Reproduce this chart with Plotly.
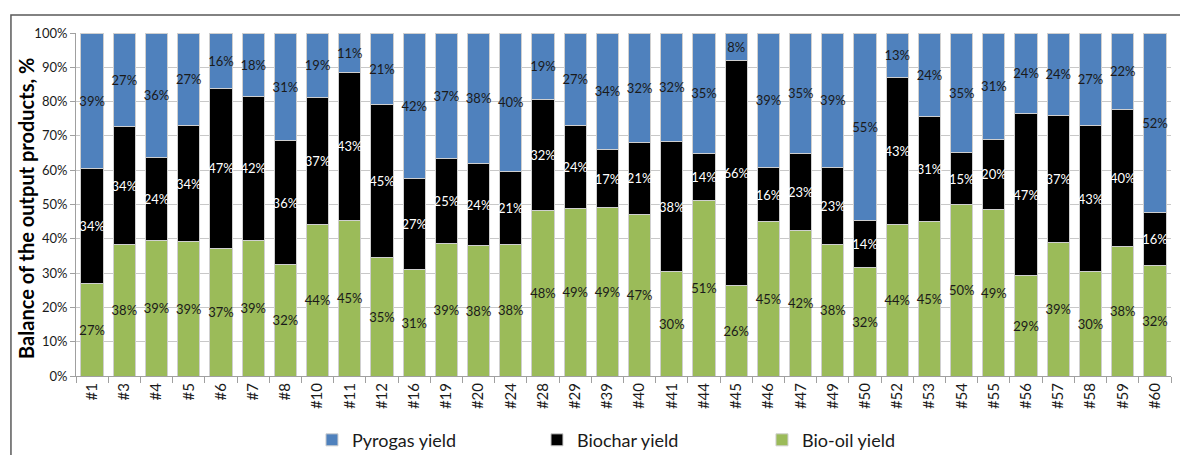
import plotly.graph_objects as go

samples = ["#1", "#3", "#4", "#5", "#6", "#7", "#8", "#10", "#11", "#12", "#16", "#19",
           "#20", "#24", "#28", "#29", "#39", "#40", "#41", "#44", "#45", "#46", "#47",
           "#49", "#50", "#52", "#53", "#54", "#55", "#56", "#57", "#58", "#59", "#60"]

bio_oil = [27.0, 38.3, 39.4, 39.1, 37.1, 39.4, 32.4, 44.1, 45.3, 34.6, 31.1, 38.7,
           38.0, 38.4, 48.2, 48.9, 49.2, 47.2, 30.4, 51.3, 26.3, 45.0, 42.3,
           38.2, 31.6, 44.3, 45.0, 49.9, 48.6, 29.2, 38.9, 30.4, 37.9, 32.2]
biochar = [33.6, 34.4, 24.2, 34.0, 46.8, 42.2, 36.3, 37.1, 43.3, 44.6, 26.6, 24.7,
           24.0, 21.3, 32.4, 24.2, 16.7, 20.9, 37.9, 13.6, 65.6, 15.8, 22.6,
           22.6, 13.6, 42.6, 30.6, 15.3, 20.4, 47.2, 37.0, 42.7, 39.8, 15.6]
pyrogas = [39.4, 27.3, 36.4, 26.9, 16.1, 18.4, 31.3, 18.8, 11.4, 20.8, 42.3, 36.6,
           38.0, 40.3, 19.4, 26.9, 34.1, 31.9, 31.7, 35.1, 8.1, 39.2, 35.1,
           39.2, 54.8, 13.1, 24.4, 34.8, 31.0, 23.6, 24.1, 26.9, 22.3, 52.2]

y_title = "Balance of the output products, %"

FONT = "Lato"
common = dict(textposition="inside", insidetextanchor="middle", textangle=0,
              texttemplate="%{y:.0f}%", constraintext="none",
              marker_line=dict(color="#cfcfcf", width=1), hoverinfo="skip")

fig = go.Figure()
fig.add_trace(go.Bar(x=samples, y=bio_oil, name="Bio-oil yield",
                     marker_color="#9bbb59", textfont=dict(color="#1a1a1a", size=13, family=FONT),
                     **common))
fig.add_trace(go.Bar(x=samples, y=biochar, name="Biochar yield",
                     marker_color="#000000", textfont=dict(color="#ffffff", size=13, family=FONT),
                     **common))
fig.add_trace(go.Bar(x=samples, y=pyrogas, name="Pyrogas yield",
                     marker_color="#4f81bd", textfont=dict(color="#1a1a1a", size=13, family=FONT),
                     **common))

fig.update_layout(
    barmode="stack",
    bargap=0.31,
    width=1180, height=447,
    margin=dict(l=68, r=17, t=25, b=79, autoexpand=False),
    plot_bgcolor="white", paper_bgcolor="white",
    font=dict(family=FONT, color="#1a1a1a"),
    uniformtext=dict(minsize=13, mode="show"),
    legend=dict(orientation="h", traceorder="reversed", x=0.2155, xanchor="left",
                y=-0.187, yanchor="middle", font=dict(size=18, family=FONT),
                entrywidth=180, itemwidth=30),
    xaxis=dict(type="category", tickangle=-90, tickfont=dict(size=15, family=FONT),
               ticks="outside", tickson="boundaries", ticklen=6, tickcolor="#a0a0a0",
               showline=True, linecolor="#a0a0a0", showgrid=False, automargin=False),
    yaxis=dict(range=[0, 100], dtick=10, ticksuffix="%", tickfont=dict(size=13, family=FONT),
               ticks="outside", ticklen=5, tickcolor="#a0a0a0", automargin=False,
               showline=True, linecolor="#a0a0a0", gridcolor="#c8c8c8"),
    annotations=[dict(text="<b>" + y_title + "</b>", xref="paper", yref="paper",
                      x=-0.0457, y=0.49, xanchor="center", yanchor="middle",
                      textangle=-90, showarrow=False,
                      font=dict(size=20, family=FONT, color="#000000"))],
    shapes=[dict(type="rect", xref="paper", yref="paper",
                 x0=-0.0594, x1=1.05, y0=-0.4, y1=1.0525,
                 line=dict(color="#5a5a5a", width=1.5), fillcolor="rgba(0,0,0,0)",
                 layer="above")],
)

fig.write_html("out.html")
